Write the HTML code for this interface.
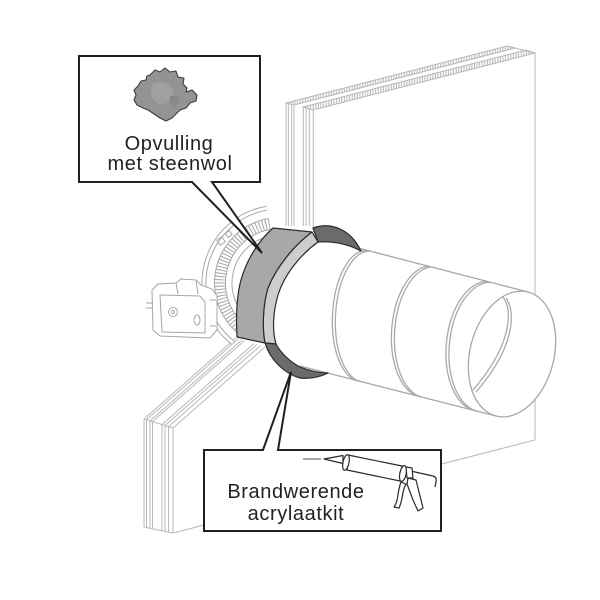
<!DOCTYPE html>
<html><head><meta charset="utf-8">
<style>
html,body{margin:0;padding:0;background:#fff;}
svg{display:block;}
text{font-family:"Liberation Sans",Arial,sans-serif;fill:#231f20;font-size:20px;letter-spacing:0.6px;}
</style></head><body>
<svg width="600" height="600" viewBox="0 0 600 600" xmlns="http://www.w3.org/2000/svg">
<defs>
<pattern id="hatch" width="2.6" height="8" patternUnits="userSpaceOnUse">
<line x1="1.2" y1="0" x2="1.2" y2="8" stroke="#b4b4b4" stroke-width="1"/>
</pattern>
<clipPath id="dclip"><rect x="130" y="190" width="170" height="170"/></clipPath>
</defs>

<!-- WALL -->
<g stroke="#b8b8b8" stroke-width="1" fill="none">
  <polygon points="286,103 507,46 515,48 294,105" fill="url(#hatch)"/>
  <polygon points="303,107 526,50 535,53 313,110" fill="url(#hatch)"/>
  <line x1="507" y1="46" x2="535" y2="53"/>
  <line x1="535" y1="53" x2="535" y2="440"/>
  <line x1="535" y1="440" x2="173" y2="533"/>
  <line x1="144" y1="527" x2="173" y2="533"/>
  <line x1="286" y1="103" x2="286" y2="226"/>
  <line x1="288.3" y1="103.6" x2="288.3" y2="226"/>
  <line x1="291.7" y1="104.5" x2="291.7" y2="226"/>
  <line x1="294" y1="105.1" x2="294" y2="226"/>
  <line x1="303.3" y1="107.5" x2="303.3" y2="226"/>
  <line x1="306" y1="108.2" x2="306" y2="226"/>
  <line x1="309.3" y1="109" x2="309.3" y2="226"/>
  <line x1="313.3" y1="110.1" x2="313.3" y2="230"/>
  <line x1="144" y1="419" x2="144" y2="527"/>
  <line x1="146.5" y1="419.8" x2="146.5" y2="527.5"/>
  <line x1="150" y1="420.9" x2="150" y2="528.2"/>
  <line x1="152.5" y1="421.6" x2="152.5" y2="528.8"/>
  <line x1="162" y1="424.6" x2="162" y2="530.7"/>
  <line x1="165" y1="425.5" x2="165" y2="531.3"/>
  <line x1="168.5" y1="426.6" x2="168.5" y2="532.1"/>
  <line x1="173" y1="428" x2="173" y2="533"/>
  <line x1="144" y1="419" x2="173" y2="428"/>
  <line x1="144" y1="419" x2="236" y2="338"/>
  <line x1="146.5" y1="419.8" x2="238.5" y2="338.8"/>
  <line x1="150" y1="420.9" x2="242" y2="339.9"/>
  <line x1="152.5" y1="421.6" x2="244.5" y2="340.6"/>
  <line x1="162" y1="424.6" x2="254" y2="343.6"/>
  <line x1="165" y1="425.5" x2="257" y2="344.5"/>
  <line x1="168.5" y1="426.6" x2="260.5" y2="345.6"/>
  <line x1="173" y1="428" x2="265" y2="347"/>
</g>

<!-- DAMPER (behind) -->
<g clip-path="url(#dclip)" fill="none" stroke="#a8a8a8" stroke-width="1">
  <path d="M266.5,206.2 A78,78 0 0 0 232,344.5" fill="#fff"/>
  <path d="M267.2,210.1 A74,74 0 0 0 234.4,341.3"/>
  <path d="M269.6,223.9 A60,60 0 0 0 243.1,330.3" stroke="#a4a4a4" stroke-width="11" stroke-dasharray="1 2.2"/>
  <path d="M268.6,218.5 A65.5,65.5 0 0 0 239.7,334.6"/>
  <path d="M270.5,229.3 A54.5,54.5 0 0 0 246.4,325.9"/>
  <path d="M271.7,235.7 A48,48 0 0 0 250.4,320.8"/>
  <rect x="218" y="238" width="6" height="6" transform="rotate(-35 221 241)"/>
  <rect x="226" y="232" width="5" height="5" transform="rotate(-35 228 234)"/>
</g>
<!-- actuator -->
<g fill="#fff" stroke="#a6a6a6" stroke-width="1">
  <path d="M152,290 L158,284 L176,283 L181,279 L196,280 L201,285 L212,289 L217,296 L217,330 L210,338 L160,336 L153,330 Z"/>
  <path d="M160,295 L200,296 L205,302 L205,333 L162,332 Z" fill="none"/>
  <circle cx="173" cy="312" r="4.5" fill="none"/>
  <circle cx="173" cy="312" r="1.5" fill="none"/>
  <ellipse cx="197" cy="320" rx="3" ry="5" fill="none"/>
  <line x1="146" y1="303" x2="153" y2="303"/>
  <line x1="146" y1="308" x2="153" y2="308"/>
  <line x1="176" y1="283" x2="178" y2="294"/>
  <line x1="196" y1="280" x2="198" y2="294"/>
  <line x1="210" y1="300" x2="216" y2="300"/>
  <line x1="210" y1="326" x2="216" y2="326"/>
</g>

<!-- PIPE -->
<g stroke="#a9a9a9" stroke-width="1.3" fill="none">
  <path d="M317,238 L528,292 L496,416 L300,366 L275,343 L273,320 L277,290 L293,262 Z" fill="#fff" stroke="none"/>
  <line x1="318" y1="237.6" x2="528" y2="292"/>
  <line x1="300" y1="366" x2="496" y2="416"/>
  <path d="M367,250.3 A31,65.5 3 0 0 360,381.2"/>
  <path d="M370,251.1 A31,65.5 3 0 0 363,382"/>
  <path d="M428,266.1 A35,65.5 4.4 0 0 418,396"/>
  <path d="M431,266.9 A35,65.5 4.4 0 0 421,396.8"/>
  <path d="M487,281.4 A37,65 5.3 0 0 475,410.6"/>
  <path d="M490,282.2 A37,65 5.3 0 0 478,411.4"/>
  <ellipse cx="512" cy="354" rx="42" ry="64" transform="rotate(14.5 512 354)" fill="#fff"/>
  <path d="M503,297 C513,310 512,345 473,390"/>
  <path d="M506,298 C516,312 515,347 476,392"/>
</g>

<!-- COLLAR -->
<g stroke="#2a2a2a" stroke-width="1.2" stroke-linejoin="round">
  <path d="M312,232 L318,242 C300,255 284,275 278,295 C273,312 272,330 276,344 L265,343 C262,328 263,304 268,288 C276,268 293,246 312,232 Z" fill="#cdcdcd"/>
  <path d="M273,228 L312,232 C293,246 276,268 268,288 C263,304 262,328 265,343 L237,337 C236,318 236,298 241,280 C246,262 257,242 273,228 Z" fill="#a8a8a8"/>
  <path d="M313,228 C330,222 350,228 361,251 C348,244 333,241 318,242 Z" fill="#6b6b6b"/>
  <path d="M265,343 L276,344 C280,352 290,362 300,367 C310,371 320,373 328,373 C320,377 310,379 300,378 C285,374 270,360 265,343 Z" fill="#6b6b6b"/>
</g>

<!-- CALLOUT 1 -->
<path d="M79,56 H260 V182 H212 L262,253 L192,182 H79 Z" fill="#fff" stroke="#231f20" stroke-width="2" stroke-linejoin="miter"/>
<path d="M150,75 L155,70 L160,72 L165,68 L170,72 L176,71 L178,77 L184,78 L183,84 L187,88 L186,92 L192,90 L197,95 L196,101 L190,103 L186,108 L180,110 L176,114 L172,118 L166,121 L160,118 L154,114 L148,110 L143,108 L137,105 L134,100 L136,95 L134,90 L138,86 L141,81 L146,80 L147,76 Z" fill="#939393" stroke="#3c3c3c" stroke-width="1.1" stroke-linejoin="round"/>
<path d="M152,84 C158,80 168,82 172,88 C176,94 170,104 162,104 C154,104 148,96 152,84 Z" fill="#a0a0a0"/>
<path d="M170,96 C175,94 181,98 178,104 C174,108 168,104 170,96 Z" fill="#888"/>
<text x="169" y="150" text-anchor="middle">Opvulling</text>
<text x="170" y="170" text-anchor="middle">met steenwol</text>

<!-- CALLOUT 2 -->
<path d="M204,450 H263 L291,372 L278,450 H441 V531 H204 Z" fill="#fff" stroke="#231f20" stroke-width="2" stroke-linejoin="miter"/>
<text x="296" y="498" text-anchor="middle">Brandwerende</text>
<text x="296" y="520" text-anchor="middle">acrylaatkit</text>

<!-- caulk gun -->
<g stroke="#2a2a2a" stroke-width="1.2" fill="#fff" stroke-linejoin="round">
  <line x1="303" y1="459" x2="321" y2="459" stroke="#9a9a9a" stroke-width="1.8"/>
  <polygon points="324,459 343,455.5 343,463.5"/>
  <polygon points="348,455 402,466 400,481 347,470"/>
  <ellipse cx="346" cy="462.5" rx="3" ry="8" transform="rotate(12 346 462.5)"/>
  <ellipse cx="403" cy="473.5" rx="3.2" ry="8" transform="rotate(12 403 473.5)"/>
  <path d="M406,470 L433,476 Q437,477 436,482 L435,487" fill="none"/>
  <path d="M406,467 L412,468 L413,478 L407,478 Z"/>
  <path d="M408,478 L416,480 L423,508 L418,511 L413,500 L407,484 Z"/>
  <path d="M401,482 C397,492 399,500 394,507 L399,508 C403,500 402,490 406,484 Z"/>
</g>
</svg>
</body></html>
